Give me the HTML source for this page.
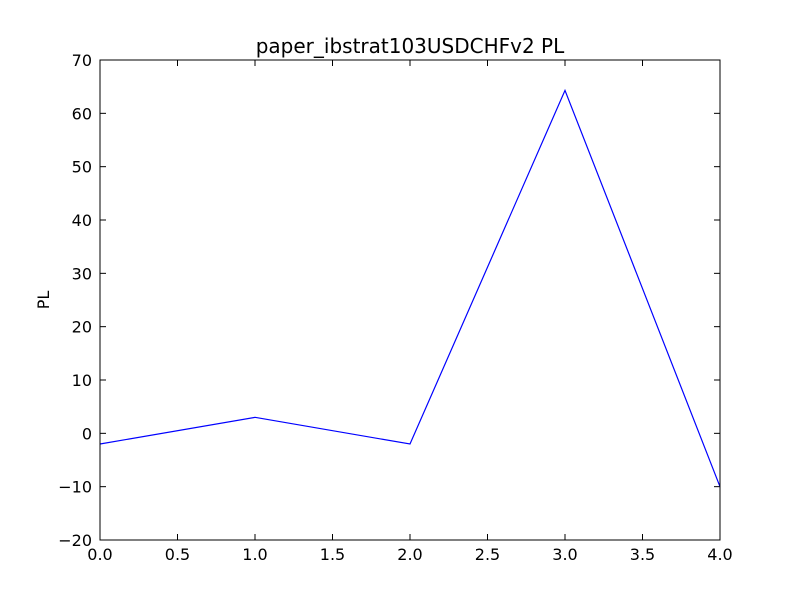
<!DOCTYPE html>
<html><head><meta charset="utf-8"><style>body{margin:0;background:#fff}svg{display:block}text{font-family:"DejaVu Sans","Liberation Sans",sans-serif}</style></head>
<body>
<svg id="chart" width="800" height="600" xmlns="http://www.w3.org/2000/svg">
<rect width="800" height="600" fill="#fff"/>
<text x="410" y="53" font-size="20" text-anchor="middle">paper_ibstrat103USDCHFv2 PL</text>
<text x="0" y="0" font-size="16" text-anchor="middle" transform="translate(49,300) rotate(-90)">PL</text>
<g id="ticks"></g>
<polyline id="line" fill="none" stroke="#0000ff" stroke-width="1.2"/>
<rect x="100" y="60" width="620" height="480" fill="none" stroke="#000" stroke-width="1"/>
</svg>
<script>
const xValues = [0, 1, 2, 3, 4];
const plValues = [-2, 3, -2, 64.3, -10];
const xTicks = [0, 0.5, 1, 1.5, 2, 2.5, 3, 3.5, 4];
const xTickLabels = ["0.0","0.5","1.0","1.5","2.0","2.5","3.0","3.5","4.0"];
const yTicks = [-20, -10, 0, 10, 20, 30, 40, 50, 60, 70];
const yTickLabels = ["\u221220","\u221210","0","10","20","30","40","50","60","70"];
const L=100,R=720,T=60,B=540;
const sx=v=>L+(v-0)/(4-0)*(R-L);
const sy=v=>B-(v+20)/90*(B-T);
const ns="http://www.w3.org/2000/svg";
const g=document.getElementById('ticks');
function ln(x1,y1,x2,y2){const l=document.createElementNS(ns,'line');l.setAttribute('x1',x1);l.setAttribute('y1',y1);l.setAttribute('x2',x2);l.setAttribute('y2',y2);l.setAttribute('stroke','#000');


g.appendChild(l);}
function tx(x,y,s,a){const t=document.createElementNS(ns,'text');t.setAttribute('x',x);t.setAttribute('y',y);t.setAttribute('font-size','16');t.setAttribute('text-anchor',a);t.textContent=s;


g.appendChild(t);}
xTicks.forEach((v,i)=>{const x=sx(v);ln(x,B,x,B-6);ln(x,T,x,T+6);tx(x,B+20,xTickLabels[i],'middle');});
yTicks.forEach((v,i)=>{const y=sy(v);ln(L,y,L+6,y);ln(R,y,R-6,y);tx(L-8,y+6,yTickLabels[i],'end');});
document.getElementById('line').setAttribute('points',xValues.map((x,i)=>sx(x)+','+sy(plValues[i])).join(' '));
</script>
</body></html>
